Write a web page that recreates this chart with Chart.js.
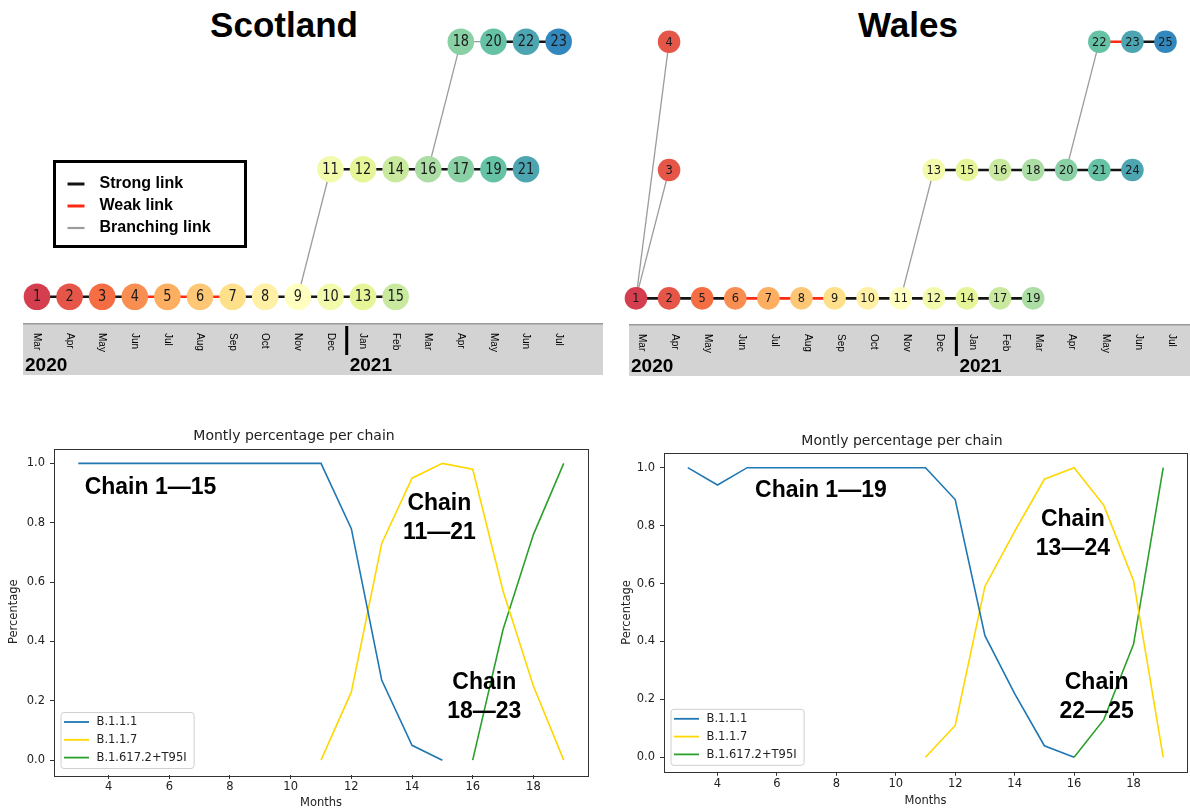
<!DOCTYPE html>
<html>
<head>
<meta charset="utf-8">
<script src="https://cdn.jsdelivr.net/npm/chart.js@4.4.1/dist/chart.umd.min.js"></script>
<style>
  html, body { margin: 0; padding: 0; background: #fff; }
  body { width: 1190px; height: 810px; overflow: hidden; position: relative; font-family: "Liberation Sans", Arial, sans-serif; }
  canvas { position: absolute; }
  .region-title { position: absolute; font-weight: bold; font-size: 35px; line-height: 1; color: #000; transform: translateX(-50%); white-space: nowrap; }
</style>
</head>
<body>
<div class="region-title" style="left:284px; top:7px;">Scotland</div>
<div class="region-title" style="left:908px; top:7px;">Wales</div>
<canvas id="scotNet" width="610" height="380" style="left:0; top:0;"></canvas>
<canvas id="walesNet" width="580" height="380" style="left:610px; top:0;"></canvas>
<canvas id="scotLine" width="600" height="390" style="left:0; top:420px;"></canvas>
<canvas id="walesLine" width="590" height="390" style="left:600px; top:420px;"></canvas>

<script>
// ---------- timeline axis ----------
const monthNames = ['Mar','Apr','May','Jun','Jul','Aug','Sep','Oct','Nov','Dec','Jan','Feb','Mar','Apr','May','Jun','Jul'];
const yearLabels = ['2020', '2021'];
const firstMonthOf2021 = 10;   // index of Jan 2021 in monthNames

// ---------- Scotland transmission chains ----------
const scotNodeIds   = [1, 2, 3, 4, 5, 6, 7, 8, 9, 10, 13, 15,  11, 12, 14, 16, 17, 19, 21,  18, 20, 22, 23];
const scotNodeMonth = [0, 1, 2, 3, 4, 5, 6, 7, 8, 9,  10, 11,  9,  10, 11, 12, 13, 14, 15,  13, 14, 15, 16];
const scotNodeRow   = [0, 0, 0, 0, 0, 0, 0, 0, 0, 0,  0,  0,   1,  1,  1,  1,  1,  1,  1,   2,  2,  2,  2];
const scotLinks = [
  [1, 2, 'strong'], [2, 3, 'strong'], [3, 4, 'strong'], [4, 5, 'weak'], [5, 6, 'weak'], [6, 7, 'weak'],
  [7, 8, 'strong'], [8, 9, 'strong'], [9, 10, 'strong'], [10, 13, 'strong'], [13, 15, 'strong'],
  [11, 12, 'strong'], [12, 14, 'strong'], [14, 16, 'strong'], [16, 17, 'strong'], [17, 19, 'strong'], [19, 21, 'strong'],
  [18, 20, 'branch'], [20, 22, 'strong'], [22, 23, 'strong'],
  [9, 11, 'branch'], [16, 18, 'branch']
];

// ---------- Wales transmission chains ----------
const walesNodeIds   = [1, 2, 5, 6, 7, 8, 9, 10, 11, 12, 14, 17, 19,  3, 13, 15, 16, 18, 20, 21, 24,  4, 22, 23, 25];
const walesNodeMonth = [0, 1, 2, 3, 4, 5, 6, 7,  8,  9,  10, 11, 12,  1, 9,  10, 11, 12, 13, 14, 15,  1, 14, 15, 16];
const walesNodeRow   = [0, 0, 0, 0, 0, 0, 0, 0,  0,  0,  0,  0,  0,   1, 1,  1,  1,  1,  1,  1,  1,   2, 2,  2,  2];
const walesLinks = [
  [1, 2, 'strong'], [2, 5, 'strong'], [5, 6, 'strong'], [6, 7, 'weak'], [7, 8, 'weak'], [8, 9, 'weak'],
  [9, 10, 'strong'], [10, 11, 'strong'], [11, 12, 'strong'], [12, 14, 'strong'], [14, 17, 'strong'], [17, 19, 'strong'],
  [13, 15, 'strong'], [15, 16, 'strong'], [16, 18, 'strong'], [18, 20, 'strong'], [20, 21, 'strong'], [21, 24, 'strong'],
  [22, 23, 'weak'], [23, 25, 'strong'],
  [1, 4, 'branch'], [1, 3, 'branch'], [11, 13, 'branch'], [20, 22, 'branch']
];

const linkLegendLabels = ['Strong link', 'Weak link', 'Branching link'];
const linkLegendKinds  = ['strong', 'weak', 'branch'];

// ---------- monthly share of each lineage ----------
const lineageNames = ['B.1.1.1', 'B.1.1.7', 'B.1.617.2+T95I'];

const scotB111Months  = [3, 4, 5, 6, 7, 8, 9, 10, 11, 12, 13, 14, 15];
const scotB111        = [1, 1, 1, 1, 1, 1, 1, 1, 1, 0.78, 0.27, 0.05, 0];
const scotB117Months  = [11, 12, 13, 14, 15, 16, 17, 18, 19];
const scotB117        = [0, 0.23, 0.73, 0.95, 1.0, 0.98, 0.57, 0.25, 0];
const scotDeltaMonths = [16, 17, 18, 19];
const scotDelta       = [0, 0.44, 0.76, 1.0];

const walesB111Months  = [3, 4, 5, 6, 7, 8, 9, 10, 11, 12, 13, 14, 15, 16];
const walesB111        = [1, 0.94, 1, 1, 1, 1, 1, 1, 1, 0.89, 0.42, 0.22, 0.04, 0];
const walesB117Months  = [11, 12, 13, 14, 15, 16, 17, 18, 19];
const walesB117        = [0, 0.11, 0.59, 0.78, 0.96, 1.0, 0.87, 0.61, 0];
const walesDeltaMonths = [16, 17, 18, 19];
const walesDelta       = [0, 0.13, 0.39, 1.0];

const xTicks = [4, 6, 8, 10, 12, 14, 16, 18];
const yTicks = [0, 0.2, 0.4, 0.6, 0.8, 1.0];

const scotChainLabels  = [['Chain 1\u201415'], ['Chain', '11\u201421'], ['Chain', '18\u201423']];
const walesChainLabels = [['Chain 1\u201419'], ['Chain', '13\u201424'], ['Chain', '22\u201425']];

// ---------- styling helpers ----------
const SPECTRAL = ['#9e0142','#d53e4f','#f46d43','#fdae61','#fee08b','#ffffbf','#e6f598','#abdda4','#66c2a5','#3288bd','#5e4fa2'];
function hexToRgb(h) { return [1, 3, 5].map(i => parseInt(h.substr(i, 2), 16)); }
function spectral(t) {
  const p = Math.max(0, Math.min(1, t)) * 10;
  const i = Math.min(9, Math.floor(p));
  const f = p - i;
  const a = hexToRgb(SPECTRAL[i]), b = hexToRgb(SPECTRAL[i + 1]);
  const c = a.map((v, k) => Math.round(v + (b[k] - v) * f));
  return 'rgb(' + c.join(',') + ')';
}
// node colour follows the month of the cluster
function monthColour(m) { return spectral(0.1 + 0.8 * m / (monthNames.length - 1)); }

const LINK_STYLE = {
  strong: { color: '#141414', width: 2.6 },
  weak:   { color: '#ff2a14', width: 2.6 },
  branch: { color: '#9c9c9c', width: 1.3 }
};

const SERIES_COLOURS = ['#1f77b4', '#ffd700', '#2ca02c'];

// ---------- plugins ----------
function nodeLabelPlugin(ids, font, squeeze) {
  return {
    id: 'nodeLabels',
    afterDatasetsDraw(chart) {
      const ctx = chart.ctx;
      const meta = chart.getDatasetMeta(0);
      ctx.save();
      ctx.font = font;
      ctx.fillStyle = '#1a1a1a';
      ctx.textAlign = 'center';
      ctx.textBaseline = 'middle';
      meta.data.forEach((el, i) => {
        ctx.save();
        ctx.translate(el.x, el.y + 0.5);
        ctx.scale(squeeze, 1);
        ctx.fillText(String(ids[i]), 0, 0);
        ctx.restore();
      });
      ctx.restore();
    }
  };
}

function timelinePlugin(cfg) {
  return {
    id: 'timeline',
    beforeDraw(chart) {
      const ctx = chart.ctx, x = chart.scales.x, area = chart.chartArea;
      ctx.save();
      ctx.fillStyle = '#d3d3d3';
      ctx.fillRect(area.left, x.top, area.right - area.left, x.bottom - x.top);
      ctx.strokeStyle = '#9a9a9a';
      ctx.lineWidth = 1.5;
      ctx.beginPath();
      ctx.moveTo(area.left, x.top + 0.75);
      ctx.lineTo(area.right, x.top + 0.75);
      ctx.stroke();
      ctx.restore();
    },
    afterDraw(chart) {
      const ctx = chart.ctx, x = chart.scales.x, area = chart.chartArea;
      ctx.save();
      // month names, written downwards
      ctx.font = '10px "Liberation Sans", Arial, sans-serif';
      ctx.fillStyle = '#000';
      ctx.textAlign = 'left';
      ctx.textBaseline = 'middle';
      x.ticks.forEach(t => {
        const px = x.getPixelForValue(t.value) + cfg.labelShift;
        ctx.save();
        ctx.translate(px, x.top + 10);
        ctx.rotate(Math.PI / 2);
        ctx.fillText(monthNames[t.value], 0, 0);
        ctx.restore();
      });
      // year divider
      const dx = (x.getPixelForValue(firstMonthOf2021 - 1) + x.getPixelForValue(firstMonthOf2021)) / 2 + cfg.labelShift;
      ctx.strokeStyle = '#000';
      ctx.lineWidth = 3;
      ctx.beginPath();
      ctx.moveTo(dx, x.top + 3);
      ctx.lineTo(dx, x.top + 32);
      ctx.stroke();
      // years
      ctx.font = 'bold 19px "Liberation Sans", Arial, sans-serif';
      ctx.textBaseline = 'alphabetic';
      ctx.fillStyle = '#000';
      ctx.fillText(yearLabels[0], area.left + 2, x.top + 48);
      ctx.fillText(yearLabels[1], dx + 3, x.top + 48);
      ctx.restore();
    }
  };
}

function linkLegendPlugin(box) {
  return {
    id: 'linkLegend',
    afterDraw(chart) {
      const ctx = chart.ctx;
      ctx.save();
      ctx.fillStyle = '#fff';
      ctx.fillRect(box.left, box.top, box.width, box.height);
      ctx.strokeStyle = '#000';
      ctx.lineWidth = 3;
      ctx.strokeRect(box.left, box.top, box.width, box.height);
      ctx.font = 'bold 16px "Liberation Sans", Arial, sans-serif';
      ctx.textBaseline = 'middle';
      ctx.textAlign = 'left';
      linkLegendLabels.forEach((label, i) => {
        const y = box.top + 22.5 + i * 22;
        const st = LINK_STYLE[linkLegendKinds[i]];
        ctx.strokeStyle = st.color;
        ctx.lineWidth = linkLegendKinds[i] === 'branch' ? 2.2 : 3;
        ctx.beginPath();
        ctx.moveTo(box.left + 13, y);
        ctx.lineTo(box.left + 30, y);
        ctx.stroke();
        ctx.fillStyle = '#000';
        ctx.fillText(label, box.left + 45, y);
      });
      ctx.restore();
    }
  };
}

function networkChart(id, ids, months, rows, links, opt, extraPlugins) {
  const pos = {};
  ids.forEach((n, i) => { pos[n] = { x: months[i], y: rows[i] }; });
  const linkSets = links.map(([a, b, kind]) => ({
    data: [pos[a], pos[b]],
    showLine: true,
    borderColor: LINK_STYLE[kind].color,
    borderWidth: LINK_STYLE[kind].width,
    borderCapStyle: 'butt',
    pointRadius: 0,
    clip: false,
    order: 1
  }));
  const colours = months.map(monthColour);
  const nodeSet = {
    data: ids.map((n, i) => ({ x: months[i], y: rows[i] })),
    showLine: false,
    pointRadius: opt.r,
    backgroundColor: colours,
    pointBackgroundColor: colours,
    pointBorderWidth: 0,
    borderWidth: 0,
    clip: false,
    order: 0
  };
  return new Chart(document.getElementById(id), {
    type: 'scatter',
    data: { datasets: [nodeSet, ...linkSets] },
    options: {
      responsive: false,
      animation: false,
      events: [],
      layout: { padding: opt.padding, autoPadding: false },
      plugins: { legend: { display: false }, tooltip: { enabled: false } },
      scales: {
        x: {
          type: 'linear', min: opt.xmin, max: opt.xmax,
          grid: { display: false, drawTicks: false },
          border: { display: false },
          ticks: { display: false, autoSkip: false },
          afterBuildTicks: s => { s.ticks = monthNames.map((_, i) => ({ value: i })); },
          afterFit: s => { s.height = 52; }
        },
        y: { type: 'linear', display: false, min: opt.ymin, max: opt.ymax }
      }
    },
    plugins: [nodeLabelPlugin(ids, opt.font, opt.squeeze), timelinePlugin({ labelShift: opt.labelShift }), ...(extraPlugins || [])]
  });
}

// ---------- line chart plugins ----------
const framePlugin = {
  id: 'frame',
  afterDatasetsDraw(chart) {
    const { left, top, right, bottom } = chart.chartArea;
    const ctx = chart.ctx;
    ctx.save();
    ctx.strokeStyle = '#333';
    ctx.lineWidth = 1;
    ctx.strokeRect(Math.round(left) + 0.5, Math.round(top) + 0.5, Math.round(right - left), Math.round(bottom - top));
    ctx.restore();
  }
};

const seriesLegendPlugin = {
  id: 'seriesLegend',
  afterDraw(chart) {
    const ctx = chart.ctx, area = chart.chartArea;
    const sets = chart.data.datasets;
    ctx.save();
    ctx.font = '11.5px "DejaVu Sans", sans-serif';
    const textW = Math.max(...sets.map(d => ctx.measureText(d.label).width));
    const w = textW + 36 + 7, h = 56;
    const bx = area.left + 6.5, by = area.bottom - 7 - h;
    ctx.fillStyle = 'rgba(255,255,255,0.85)';
    ctx.strokeStyle = '#cfcfcf';
    ctx.lineWidth = 1;
    ctx.beginPath();
    ctx.roundRect(bx + 0.5, by + 0.5, w, h, 3);
    ctx.fill();
    ctx.stroke();
    ctx.textAlign = 'left';
    ctx.textBaseline = 'middle';
    sets.forEach((d, i) => {
      const y = by + 10 + i * 17.8;
      ctx.strokeStyle = d.borderColor;
      ctx.lineWidth = 1.8;
      ctx.beginPath();
      ctx.moveTo(bx + 3.5, y);
      ctx.lineTo(bx + 28.5, y);
      ctx.stroke();
      ctx.fillStyle = '#222';
      ctx.fillText(d.label, bx + 36, y + 0.5);
    });
    ctx.restore();
  }
};

function chainLabelPlugin(labels, anchors) {
  return {
    id: 'chainLabels',
    afterDraw(chart) {
      const ctx = chart.ctx, xs = chart.scales.x, ys = chart.scales.y;
      ctx.save();
      ctx.font = 'bold 23px "Liberation Sans", Arial, sans-serif';
      ctx.fillStyle = '#000';
      ctx.textAlign = 'center';
      ctx.textBaseline = 'middle';
      labels.forEach((lines, i) => {
        const px = xs.getPixelForValue(anchors[i][0]);
        const py = ys.getPixelForValue(anchors[i][1]);
        lines.forEach((line, k) => ctx.fillText(line, px, py + k * 29));
      });
      ctx.restore();
    }
  };
}

const tickFont = { family: 'DejaVu Sans', size: 11.5 };

function lineChart(id, series, opt, chainPlugin) {
  return new Chart(document.getElementById(id), {
    type: 'line',
    data: {
      datasets: series.map((s, k) => ({
        label: lineageNames[k],
        data: s.months.map((m, i) => ({ x: m, y: s.values[i] })),
        borderColor: SERIES_COLOURS[k],
        backgroundColor: SERIES_COLOURS[k],
        borderWidth: 1.6,
        pointRadius: 0,
        tension: 0,
        fill: false
      }))
    },
    options: {
      responsive: false,
      animation: false,
      events: [],
      layout: { padding: opt.padding, autoPadding: false },
      plugins: {
        legend: { display: false },
        tooltip: { enabled: false },
        title: {
          display: true,
          text: 'Montly percentage per chain',
          color: '#222',
          font: { family: 'DejaVu Sans', size: 14, weight: 'normal' },
          padding: opt.titlePad
        }
      },
      scales: {
        x: {
          type: 'linear', min: 2.2, max: 19.8,
          grid: { display: true, drawOnChartArea: false, drawTicks: true, tickLength: 4, color: '#333' },
          border: { display: false },
          ticks: { color: '#222', font: tickFont, padding: 1.5, autoSkip: false, maxRotation: 0 },
          afterBuildTicks: s => { s.ticks = xTicks.map(v => ({ value: v })); },
          title: { display: true, text: 'Months', color: '#222', font: tickFont, padding: { top: 0, bottom: opt.xTitlePad } },
          afterFit: s => { s.height = opt.xHeight; }
        },
        y: {
          type: 'linear', min: -0.05, max: 1.05,
          grid: { display: true, drawOnChartArea: false, drawTicks: true, tickLength: 4, color: '#333' },
          border: { display: false },
          ticks: { color: '#222', font: tickFont, padding: 5, autoSkip: false, callback: v => Number(v).toFixed(1) },
          afterBuildTicks: s => { s.ticks = yTicks.map(v => ({ value: v })); },
          title: { display: true, text: 'Percentage', color: '#222', font: tickFont, padding: { top: opt.yTitlePad, bottom: 0 } },
          afterFit: s => { s.width = opt.yWidth; }
        }
      }
    },
    plugins: [framePlugin, seriesLegendPlugin, chainPlugin]
  });
}

// ---------- draw ----------
networkChart('scotNet', scotNodeIds, scotNodeMonth, scotNodeRow, scotLinks, {
  r: 13.3, font: '15px "DejaVu Sans", sans-serif', squeeze: 0.86,
  padding: { left: 23, right: 7, top: 0, bottom: 5 },
  xmin: -0.429, xmax: 17.36, ymin: -0.206, ymax: 2.327, labelShift: 0
}, [linkLegendPlugin({ left: 54.5, top: 161.5, width: 191, height: 85 })]);

networkChart('walesNet', walesNodeIds, walesNodeMonth, walesNodeRow, walesLinks, {
  r: 11.3, font: '13px "DejaVu Sans", sans-serif', squeeze: 0.88,
  padding: { left: 19, right: 0, top: 0, bottom: 4 },
  xmin: -0.211, xmax: 16.74, ymin: -0.2, ymax: 2.325, labelShift: 6
});

lineChart('scotLine', [
  { months: scotB111Months, values: scotB111 },
  { months: scotB117Months, values: scotB117 },
  { months: scotDeltaMonths, values: scotDelta }
], {
  padding: { left: 0, right: 12, top: 0, bottom: 0 },
  titlePad: { top: 7.6, bottom: 4.1 },
  yWidth: 54, yTitlePad: 7.6, xHeight: 35, xTitlePad: 0
}, chainLabelPlugin(scotChainLabels, [[5.38, 0.918], [14.9, 0.863], [16.38, 0.26]]));

lineChart('walesLine', [
  { months: walesB111Months, values: walesB111 },
  { months: walesB117Months, values: walesB117 },
  { months: walesDeltaMonths, values: walesDelta }
], {
  padding: { left: 17, right: 3, top: 0, bottom: 0 },
  titlePad: { top: 12.6, bottom: 3.8 },
  yWidth: 47, yTitlePad: 3.1, xHeight: 38.2, xTitlePad: 2
}, chainLabelPlugin(walesChainLabels, [[7.48, 0.919], [15.96, 0.822], [16.76, 0.259]]));
</script>
</body>
</html>
